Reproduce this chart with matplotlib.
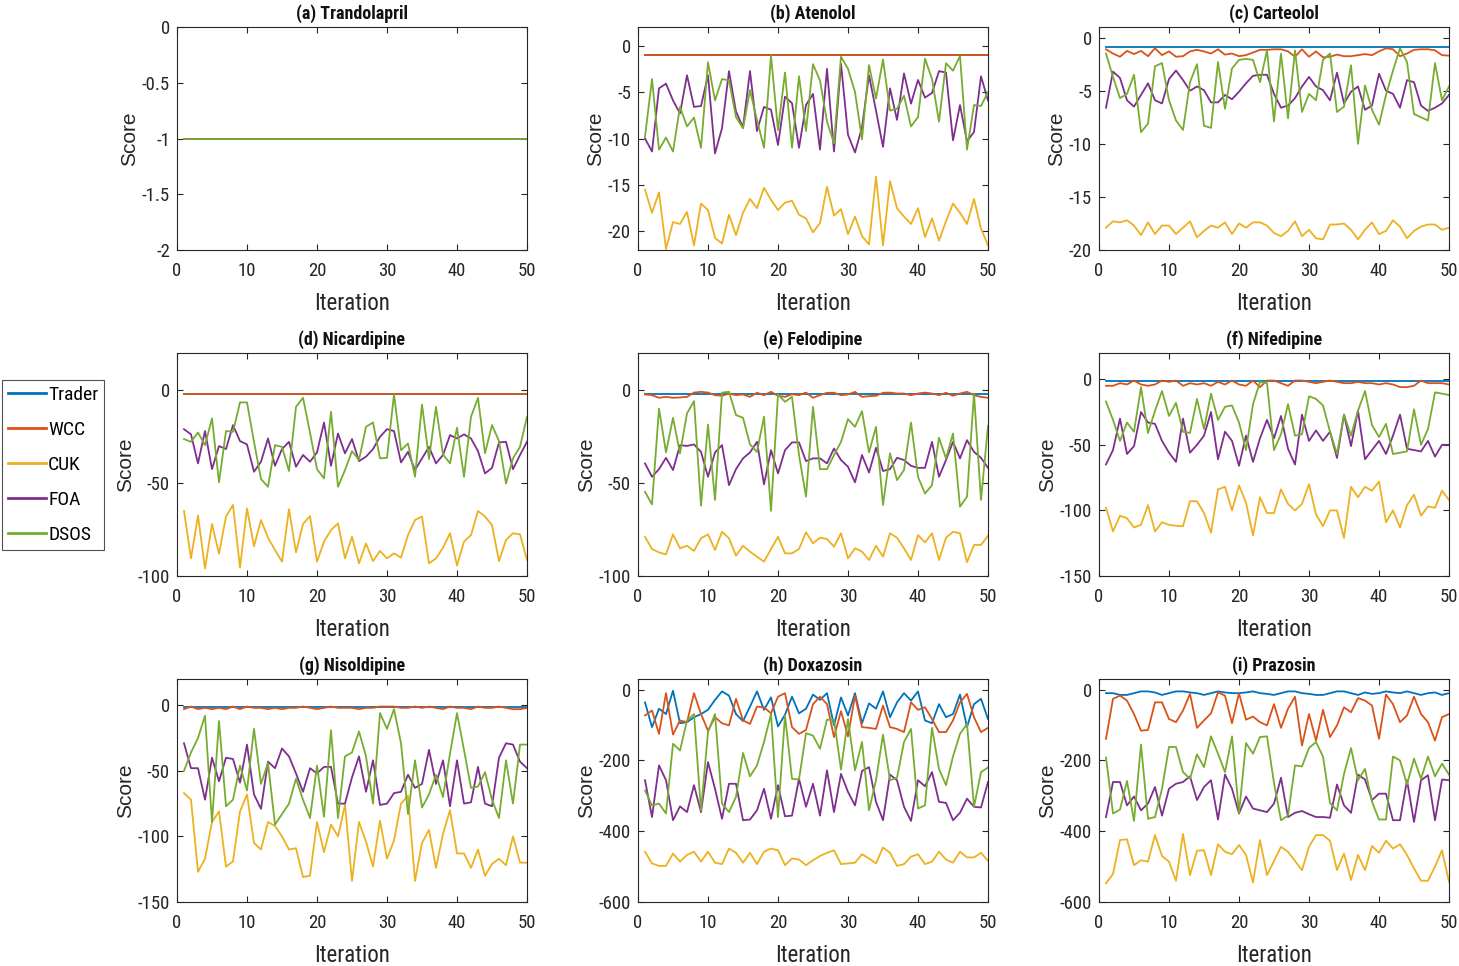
import os
import matplotlib
matplotlib.use("Agg")
import matplotlib.pyplot as plt
from matplotlib.lines import Line2D
from matplotlib import font_manager as fm

plt.rcParams['font.family'] = ['Liberation Sans', 'DejaVu Sans']

iterations = list(range(1, 51))
series_names = ['Trader', 'WCC', 'CUK', 'FOA', 'DSOS']
series_colors = ['#0072BD', '#D95319', '#EDB120', '#7E2F8E', '#77AC30']
titles = ['(a) Trandolapril', '(b) Atenolol', '(c) Carteolol',
          '(d) Nicardipine', '(e) Felodipine', '(f) Nifedipine',
          '(g) Nisoldipine', '(h) Doxazosin', '(i) Prazosin']

# (a) Trandolapril
a_trader = [-1.0] * 50
a_wcc = [-1.0] * 50
a_cuk = [-1.0] * 50
a_foa = [-1.0] * 50
a_dsos = [-1.0] * 50

# (b) Atenolol
b_trader = [-1.0] * 50
b_wcc = [-1.0] * 50
b_cuk = [-15.5, -18, -15.8, -21.9, -19, -19.2, -17.9, -21.5, -17, -17.7, -20.7, -21.3, -18.2, -20.4, -18, -16.5, -17.5,
         -15.3, -16.6, -17.7, -16.9, -16.7, -18.2, -18.6, -20.1, -19.1, -15.2, -18.3, -17.6, -20.3, -18.4, -20.5, -21.4,
         -14.1, -21.5, -14.6, -17.5, -18.4, -19.2, -17.5, -20.6, -18.6, -21, -18.9, -17, -18, -19.2, -16.5, -19.7, -21.5]
b_foa = [-10, -11.4, -4.6, -4.1, -5.9, -7.3, -3.2, -6.6, -6.5, -3.2, -11.6, -8.9, -2.75, -7.1, -8.8, -2.75, -9.2, -6.6,
         -6.9, -10.7, -5.5, -6.2, -11, -6.4, -5.2, -11.2, -2.5, -11.4, -1.96, -9.6, -11.5, -8.8, -3.2, -7, -10.9, -4.6, -8,
         -3, -6.25, -3.7, -5.6, -5.1, -2.75, -2.9, -10.2, -6.4, -10.3, -9.3, -3.3, -5.9]
b_dsos = [-9.8, -3.6, -11.2, -9.9, -11.4, -6.6, -8.7, -7.75, -11, -1.8, -5.9, -3.6, -3.75, -7.7, -8.9, -4.8, -8, -11,
          -1.07, -9.1, -2.9, -11, -3.3, -9.2, -2, -3.75, -8.2, -10.5, -1.2, -2.5, -5, -10.1, -2.1, -5.7, -1.5, -7, -6.8,
          -5.4, -8.7, -7.7, -1.4, -3.6, -8.2, -1.9, -2.7, -1.1, -11.2, -6.4, -6.5, -5]

# (c) Carteolol
c_trader = [-0.9] * 50
c_wcc = [-1.1, -1.5, -1.8, -1.25, -1.55, -1.25, -1.75, -1.0, -1.65, -1.3, -1.8, -1.75, -1.3, -1.15, -1.3, -1.5, -1.1,
         -1.6, -1.5, -1.75, -1.65, -1.4, -1.15, -1.15, -1.1, -1.1, -1.3, -1.8, -1.1, -1.8, -1.3, -1.85, -1.8, -1.6, -1.75,
         -1.75, -1.65, -1.55, -1.65, -1.3, -1.0, -1.1, -1.75, -1.5, -1.15, -1.1, -1.1, -1.2, -1.65, -1.7]
c_cuk = [-17.9, -17.3, -17.4, -17.2, -17.7, -18.6, -17.4, -18.5, -17.7, -17.7, -18.5, -17.9, -17.3, -18.8, -18.2, -17.7,
         -17.9, -17.4, -18.5, -17.5, -17.9, -17.4, -17.4, -17.7, -18.4, -18.7, -18.2, -17.3, -18.7, -18.1, -18.9, -19,
         -17.6, -17.6, -17.5, -18.1, -19, -18.1, -17.4, -18.5, -18.2, -17.2, -17.8, -18.9, -18.2, -17.8, -17.6, -17.6,
         -18.1, -17.9]
c_foa = [-6.6, -3.2, -3.8, -5.9, -6.5, -5.4, -4.3, -5.9, -6.2, -3.9, -3.1, -4, -5, -4.6, -4.95, -6.1, -6.1, -5.4, -5.8,
         -5.1, -4.3, -3.6, -3.5, -3.5, -5.3, -6.6, -6.4, -5.7, -4.6, -3.7, -4.6, -4.95, -5.9, -3.3, -6.2, -5.1, -4.6, -6.8,
         -6.4, -3.4, -5, -5.3, -6.6, -4, -4.2, -6.4, -6.9, -6.6, -6.2, -5.4]
c_dsos = [-1.5, -3.7, -5.7, -5.3, -3.5, -8.9, -8.1, -2.7, -2.4, -5.9, -7.8, -8.7, -4.2, -2.5, -8.3, -8.5, -2.3, -6.7,
          -2.9, -2.1, -2, -2.1, -4.2, -1.2, -7.9, -1.5, -7.6, -1.2, -7, -5.3, -5.9, -2.1, -1.5, -7, -6.5, -2.6, -10, -4.5,
          -6.8, -8.2, -5.4, -3.1, -1.0, -2.3, -7.2, -7.5, -7.8, -2.4, -5.9, -4.6]

# (d) Nicardipine
d_trader = [-2.0] * 50
d_wcc = [-2.0] * 50
d_cuk = [-65, -90.5, -67.5, -96, -72, -88, -68, -61.8, -95.5, -63.6, -84, -69.9, -79.4, -86, -92.3, -64, -87.3, -72,
         -67.7, -92.3, -81.5, -75.3, -71.7, -90.5, -78.9, -93.2, -82.5, -92, -86.5, -90.5, -87.8, -90.1, -78, -69.9, -68,
         -93.2, -90.5, -84.8, -77, -94.4, -81.5, -78, -65, -68, -72.6, -92, -80.6, -77, -77.6, -91.4]
d_foa = [-21, -23.8, -39.4, -22, -42.5, -30.1, -31.7, -18.8, -27.4, -29.2, -43.9, -38.5, -26, -40.7, -31.7, -27.8, -41.2,
         -34.9, -38.5, -33.5, -17.4, -40.7, -23.3, -34, -26.3, -38.2, -35.8, -31.7, -25.1, -21, -22, -38.9, -33.2, -43,
         -36.7, -30.5, -39.4, -34.9, -24.2, -26, -23.8, -26, -32.8, -44.8, -41.8, -28.1, -27.8, -42.5, -34.9, -27.8]
d_dsos = [-26.3, -27.8, -22.8, -29.6, -15.2, -49.6, -22, -22.4, -6.6, -6.6, -27.8, -47.8, -52, -29.6, -30.5, -43.5, -9,
          -4.1, -22.8, -42.5, -47.5, -11.6, -52, -43, -32.8, -37.6, -19.7, -17.4, -36.7, -36.4, -2.3, -32.3, -28.7, -46.6,
          -7.7, -37.1, -9, -34.6, -39.4, -20.2, -46.6, -14.3, -4.1, -34, -18.8, -27.4, -50.2, -36.7, -30.5, -14.3]

# (e) Felodipine
e_trader = [-2.0] * 50
e_wcc = [-2.3, -2.7, -4.1, -3.6, -4.1, -3.9, -3.6, -1.3, -0.9, -1.3, -2.7, -3, -1.8, -2.7, -2.3, -3.6, -1.4, -2.7, -0.9,
         -3, -3.6, -2.2, -2.7, -1.3, -4.1, -2.7, -1.4, -1.4, -2.7, -2.3, -0.9, -3.6, -3.2, -3, -1.4, -1.3, -1.8, -1.8, -2.7,
         -1.8, -1.3, -1.8, -2.7, -1.4, -3, -1.8, -0.9, -2.7, -3.6, -4.1]
e_cuk = [-78.9, -85.5, -87.3, -88.4, -77.6, -85.1, -83.7, -86.5, -79.7, -77.6, -86, -76.2, -79.7, -89.1, -83.7, -86.9,
         -89.6, -92.3, -85.5, -78.9, -87.8, -87.8, -85.5, -76.5, -82.4, -79.4, -80.1, -84.2, -77, -90.5, -85.1, -86.9,
         -91.4, -83.7, -89.6, -77, -79.4, -85.1, -91.4, -78, -81.9, -77, -91.4, -79.4, -76.2, -77, -92.6, -83.3, -83.3,
         -78.3]
e_foa = [-39.4, -46.6, -42.5, -36.4, -43, -29.6, -30, -29.2, -33.2, -46.6, -33.5, -29.6, -51.1, -42.5, -36.7, -33.5,
         -27.8, -50.7, -32.3, -44.8, -32.3, -28.1, -28.1, -38.2, -36.7, -36.7, -39.4, -31.4, -37.6, -41.2, -49.6, -34.9,
         -44.3, -31, -43.5, -42.5, -36.4, -37.6, -40.7, -41.8, -41.8, -27.8, -46.6, -37.6, -27.8, -36.7, -26.9, -33.2,
         -36.4, -41.8]
e_dsos = [-54.7, -61.5, -9.9, -33.5, -14.9, -34, -12.5, -5.9, -62.2, -18.5, -59.1, -1.3, -0.9, -13.4, -14.9, -29.2,
          -33.2, -14.3, -65, -2.3, -6.3, -3.6, -34.9, -57.3, -9, -42.5, -42.5, -34.9, -27.8, -15.6, -19.7, -11.3, -33.5,
          -19.7, -61.8, -34, -48.4, -43, -17.4, -46.6, -55.6, -51.1, -25.6, -36.7, -23.3, -62.7, -57.3, -1.8, -59.1, -19.2]

# (f) Nifedipine
f_trader = [-1.0] * 50
f_wcc = [-5, -5, -3, -4, -1, -4, -5, -4, -1, -2, -1, -5, -3, -4, -3, -5, -2, -4, -1, -4, -5, -1, -6, -1, -1, -3, -5, -1,
         -1, -2, -3, -2, -1, -2, -3, -3, -2, -3, -3, -4, -3, -4, -6, -6, -5, -1, -3, -3, -3, -4]
f_cuk = [-98, -116, -104, -106, -113, -111, -96, -116, -109, -111, -111.7, -112, -93, -93, -102, -117, -84, -82, -100,
         -81, -94, -119, -90, -102, -102, -84, -95, -100, -95, -80, -103, -112, -100, -100, -121, -82, -90, -82, -85, -78,
         -109, -100, -113, -96, -88, -104, -97, -98, -85, -92]
f_foa = [-65, -54, -30, -57, -51, -25, -33, -34, -47, -56, -63, -30, -56, -50, -43, -25, -61, -40, -47, -66, -43, -63,
         -45, -31, -45, -28, -53, -65, -27, -47, -39, -47, -40, -60, -27, -51, -24, -61, -54, -47, -57, -43, -27, -53, -54,
         -55, -47, -59, -50, -50]
f_dsos = [-17, -31, -47, -33, -40, -6, -41, -24, -9, -28, -18, -40, -41, -15, -38, -11, -31, -21, -20, -33, -54, -19, -2,
          -3, -54, -42, -19, -43, -42, -13, -15, -20, -40, -57, -27, -43, -24, -9, -35, -44, -34, -57, -56, -55, -23, -50,
          -38, -10, -11, -12]

# (g) Nisoldipine
g_trader = [-1.0] * 50
g_wcc = [-3, -1, -3, -2, -3, -2, -3, -1, -3, -1, -2, -2, -3, -2, -3, -2, -2, -1, -2, -3, -2, -1, -2, -2, -2, -3, -2, -2,
         -1, -1, -1, -2, -2, -1, -2, -1, -2, -3, -1, -2, -2, -3, -1, -2, -2, -1, -2, -3, -3, -2]
g_cuk = [-67, -72, -127, -117, -89, -81, -123, -119, -81, -68, -105, -110, -89, -92, -100, -110, -109, -131, -130, -89,
         -112, -91, -100, -76, -134, -89, -104, -123, -88, -117, -103, -75, -69, -134, -105, -95, -124, -98, -80, -113,
         -113, -124, -110, -130, -121, -117, -122, -100, -120, -120]
g_foa = [-29, -48, -48, -72, -40, -58, -40, -41, -59, -30, -68, -79, -43, -48, -33, -39, -52, -66, -48, -52, -47, -47,
         -75, -75, -55, -39, -66, -42, -76, -75, -67, -66, -53, -63, -60, -34, -60, -42, -77, -42, -75, -74, -47, -75, -77,
         -40, -29, -30, -43, -48]
g_dsos = [-50, -36, -25, -8, -89, -12, -77, -72, -46, -65, -18, -60, -44, -91, -83, -75, -56, -72, -86, -46, -85, -19,
          -86, -39, -36, -20, -39, -75, -6, -18, -3, -29, -83, -42, -78, -68, -53, -70, -37, -6, -34, -63, -62, -51, -72,
          -86, -42, -75, -30, -30]

# (h) Doxazosin
h_trader = [-36, -106, -54, -69, -3, -95, -92, -78, -69, -57, -29, -5, -17, -69, -89, -48, -5, -57, -22, -104, -71, -20,
            -67, -54, -14, -29, -10, -101, -22, -73, -10, -95, -39, -54, -5, -78, -36, -10, -31, -5, -87, -95, -41, -78,
            -69, -14, -106, -41, -26, -83]
h_wcc = [-73, -59, -125, -10, -127, -87, -92, -10, -69, -116, -78, -95, -101, -26, -87, -97, -48, -50, -67, -20, -10,
         -106, -125, -114, -41, -20, -41, -134, -61, -132, -17, -106, -108, -111, -45, -106, -111, -120, -36, -57, -50,
         -83, -120, -120, -87, -36, -12, -78, -120, -108]
h_cuk = [-458, -491, -498, -498, -463, -486, -467, -458, -486, -458, -489, -493, -449, -461, -489, -461, -493, -458,
         -449, -454, -496, -477, -480, -496, -482, -470, -461, -454, -493, -491, -489, -465, -477, -491, -446, -461, -498,
         -493, -472, -465, -493, -486, -458, -480, -489, -458, -474, -474, -461, -484]
h_foa = [-256, -360, -214, -256, -369, -330, -346, -270, -346, -205, -280, -365, -266, -266, -369, -367, -341, -280,
         -365, -270, -358, -356, -252, -331, -266, -356, -228, -346, -238, -289, -327, -230, -219, -317, -369, -240, -256,
         -331, -371, -256, -273, -233, -317, -320, -369, -348, -308, -331, -333, -261]
h_dsos = [-285, -327, -322, -350, -153, -172, -87, -69, -341, -120, -69, -322, -346, -303, -179, -245, -214, -148, -69,
          -360, -73, -252, -254, -123, -130, -167, -85, -85, -226, -83, -228, -148, -341, -256, -127, -256, -249, -148,
          -111, -336, -327, -108, -224, -270, -189, -125, -97, -331, -233, -220]

# (i) Prazosin
i_trader = [-10, -10, -15, -15, -10, -5, -5, -8, -15, -10, -5, -5, -8, -10, -15, -10, -5, -8, -10, -10, -8, -5, -10, -12,
            -15, -10, -5, -5, -10, -12, -15, -15, -10, -5, -5, -10, -15, -8, -12, -10, -5, -8, -10, -5, -10, -15, -10, -8,
            -15, -10]
i_wcc = [-139, -26, -17, -31, -69, -116, -114, -36, -36, -83, -92, -59, -12, -108, -87, -67, -8, -17, -95, -10, -85, -76,
         -92, -101, -41, -108, -54, -20, -158, -69, -144, -57, -134, -101, -50, -64, -24, -31, -45, -139, -14, -41, -92,
         -73, -20, -69, -92, -144, -78, -69]
i_cuk = [-547, -521, -425, -423, -496, -482, -486, -411, -470, -486, -540, -408, -524, -455, -454, -524, -437, -458,
         -465, -439, -467, -545, -425, -524, -484, -444, -458, -484, -510, -444, -411, -411, -427, -510, -463, -538, -467,
         -510, -442, -461, -427, -449, -437, -467, -505, -540, -540, -500, -454, -543]
i_foa = [-360, -261, -261, -327, -302, -341, -322, -275, -356, -280, -266, -261, -245, -312, -275, -256, -367, -240,
         -280, -350, -302, -336, -341, -346, -322, -249, -360, -348, -343, -352, -360, -360, -362, -268, -327, -348, -240,
         -254, -312, -294, -294, -369, -369, -256, -374, -256, -242, -369, -254, -256]
i_dsos = [-192, -350, -339, -258, -371, -155, -365, -360, -280, -162, -162, -233, -252, -183, -219, -132, -181, -233,
          -132, -348, -151, -181, -134, -132, -264, -369, -356, -214, -217, -165, -148, -189, -320, -341, -238, -165, -256,
          -224, -317, -367, -367, -189, -200, -268, -195, -252, -189, -245, -209, -240]

panel_data = [
    [a_trader, a_wcc, a_cuk, a_foa, a_dsos],
    [b_trader, b_wcc, b_cuk, b_foa, b_dsos],
    [c_trader, c_wcc, c_cuk, c_foa, c_dsos],
    [d_trader, d_wcc, d_cuk, d_foa, d_dsos],
    [e_trader, e_wcc, e_cuk, e_foa, e_dsos],
    [f_trader, f_wcc, f_cuk, f_foa, f_dsos],
    [g_trader, g_wcc, g_cuk, g_foa, g_dsos],
    [h_trader, h_wcc, h_cuk, h_foa, h_dsos],
    [i_trader, i_wcc, i_cuk, i_foa, i_dsos],
]
y_limits = [(-2, 0), (-22, 2), (-20, 1), (-100, 20), (-100, 20), (-150, 20), (-150, 20), (-600, 30), (-600, 30)]
y_ticks = [[-2, -1.5, -1, -0.5, 0], [-20, -15, -10, -5, 0], [-20, -15, -10, -5, 0],
           [-100, -50, 0], [-100, -50, 0], [-150, -100, -50, 0], [-150, -100, -50, 0],
           [-600, -400, -200, 0], [-600, -400, -200, 0]]
y_ticklabels = [['-2', '-1.5', '-1', '-0.5', '0'], ['-20', '-15', '-10', '-5', '0'], ['-20', '-15', '-10', '-5', '0'],
                ['-100', '-50', '0'], ['-100', '-50', '0'], ['-150', '-100', '-50', '0'], ['-150', '-100', '-50', '0'],
                ['-600', '-400', '-200', '0'], ['-600', '-400', '-200', '0']]
x_ticks = [0, 10, 20, 30, 40, 50]


def find_font(patterns):
    for p in patterns:
        for f in fm.fontManager.ttflist:
            if p.lower() in os.path.basename(f.fname).lower():
                return f.fname
    return None


narrow_reg = find_font(['LiberationSansNarrow-Regular', 'RobotoCondensed-Regular', 'Roboto-Condensed.',
                        'NotoSansCondensed-Regular', 'NotoSans-Condensed.', 'OpenSans-CondensedRegular',
                        'OpenSans_Condensed-Regular', 'DejaVuSansCondensed.ttf'])
narrow_bold = find_font(['LiberationSansNarrow-Bold.', 'RobotoCondensed-Bold.', 'Roboto-BoldCondensed.',
                         'NotoSansCondensed-Bold.', 'NotoSans-CondensedBold.', 'OpenSans-CondensedBold.',
                         'OpenSans_Condensed-Bold.', 'DejaVuSansCondensed-Bold.ttf'])


def narrow_fp(size, bold=False):
    path = narrow_bold if bold else narrow_reg
    if path:
        return fm.FontProperties(fname=path, size=size)
    return fm.FontProperties(family=['Liberation Sans', 'DejaVu Sans'], size=size * 0.85,
                             weight='bold' if bold else 'normal')


tick_fp = narrow_fp(13.5)
title_fp = narrow_fp(13, bold=True)
xlabel_fp = narrow_fp(16.5)
legend_fp = narrow_fp(14)
ylabel_fp = fm.FontProperties(family=['Liberation Sans', 'DejaVu Sans'], size=15)

W, H = 1459, 966
fig = plt.figure(figsize=(W / 100, H / 100), dpi=100)
col_left = [177, 638, 1099]
row_top = [27, 353, 679]
ax_w, ax_h = 350, 223

spine_col = '#262626'
for k in range(9):
    r, c = divmod(k, 3)
    ax = fig.add_axes([col_left[c] / W, 1 - (row_top[r] + ax_h) / H, ax_w / W, ax_h / H])
    for s_idx, vals in enumerate(panel_data[k]):
        ax.plot(iterations, vals, color=series_colors[s_idx], lw=1.3, label=series_names[s_idx])
    ax.set_xlim(0, 50)
    ax.set_ylim(*y_limits[k])
    ax.set_xticks(x_ticks)
    ax.set_xticklabels([str(t) for t in x_ticks], fontproperties=tick_fp)
    ax.set_yticks(y_ticks[k])
    ax.set_yticklabels(y_ticklabels[k], fontproperties=tick_fp)
    ax.tick_params(direction='in', top=True, right=True, colors=spine_col, length=4, width=0.8)
    ax.tick_params(axis='x', pad=9)
    ax.tick_params(axis='y', pad=5)
    for sp in ax.spines.values():
        sp.set_color(spine_col)
        sp.set_linewidth(0.8)
    ax.set_title(titles[k], fontproperties=title_fp, pad=6, color='#111111')
    ax.set_xlabel('Iteration', fontproperties=xlabel_fp, labelpad=8, color='#262626')
    ax.set_ylabel('Score', fontproperties=ylabel_fp, labelpad=2, color='#262626')

handles = [Line2D([0], [0], color=series_colors[i], lw=2) for i in range(5)]
leg = fig.legend(handles, series_names, loc='upper left', bbox_to_anchor=(2 / W, 1 - 380 / H),
                 prop=legend_fp, frameon=True, fancybox=False, handlelength=1.95, handletextpad=0.12,
                 borderpad=0.3, labelspacing=0.88, borderaxespad=0)
leg.get_frame().set_edgecolor('#262626')
leg.get_frame().set_linewidth(0.8)

fig.savefig('out.png', dpi=100)
